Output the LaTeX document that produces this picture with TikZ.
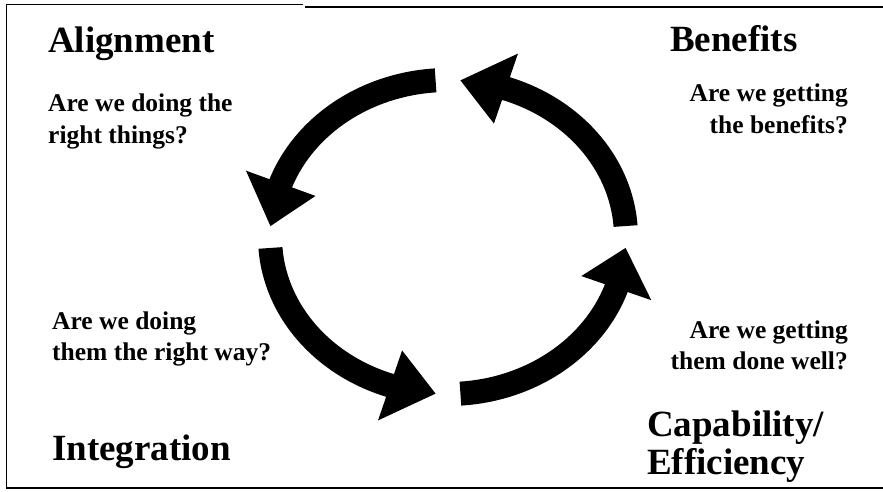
\documentclass[tikz,border=0pt]{standalone}
\usepackage{fontspec}
\setmainfont{Liberation Serif}
\usetikzlibrary{calc}

% One thick curved arrow of the cycle: #1 = tail angle, #2 = angle of the
% head's base, #3 = angle of the tip (all measured around the centre C).
\newcommand\cyclearrow[3]{%
  \fill ($(C)+({190*cos(#1)},{169*sin(#1)})$)
    arc[start angle=#1, end angle=#2, x radius=190, y radius=169]
    -- ($(C)+({215*cos(#2)},{194*sin(#2)})$)
    -- ($(C)+({178*cos(#3)},{157*sin(#3)})$)
    -- ($(C)+({141*cos(#2)},{120*sin(#2)})$)
    -- ($(C)+({166*cos(#2)},{145*sin(#2)})$)
    arc[start angle=#2, end angle=#1, x radius=166, y radius=145]
    -- cycle;}

\begin{document}
\begin{tikzpicture}[x=1pt, y=1pt,
  heading/.style={font=\bfseries\fontsize{37}{38}\selectfont, inner sep=0pt},
  question/.style={font=\bfseries\fontsize{25.5}{31}\selectfont, inner sep=0pt},
  frameline/.style={line width=2pt, line cap=butt}]
\useasboundingbox (0,0) rectangle (883,491);
\fill[white] (0,0) rectangle (883,491);

% open frame: left, top and bottom edges
\draw[frameline, line width=1.5pt] (6.5,3) -- (6.5,486.5) -- (303,486.5);
\draw[frameline, line width=2.5pt] (305,484) -- (883,484);
\draw[frameline] (5.5,3) -- (883,3);

% centre of the cycle
\coordinate (C) at (448,254);

% the four arrows, running anticlockwise
\cyclearrow{4}{71}{86}
\cyclearrow{94}{160}{176}
\cyclearrow{184}{251}{266}
\cyclearrow{274}{341}{356}

% headings (multi-line nodes are placed by the baseline of their last line)
\node[heading, anchor=base west] (align) at (48,438) {Alignment};
\node[heading, anchor=base west] (benef) at (670,439) {Benefits};
\node[heading, anchor=base west] (integ) at (52,31) {Integration};
\node[heading, anchor=base west, align=left] (capab) at (647,17) {Capability/\\Efficiency};

% questions
\node[question, anchor=base west, align=left] (qalign) at (48,348) {Are we doing the\\right things?};
\node[question, anchor=base east, align=right] (qbenef) at (848,358) {Are we getting\\the benefits?};
\node[question, anchor=base west, align=left] (qinteg) at (52,131) {Are we doing\\them the right way?};
\node[question, anchor=base east, align=right] (qcapab) at (848,122) {Are we getting\\them done well?};
\end{tikzpicture}
\end{document}
